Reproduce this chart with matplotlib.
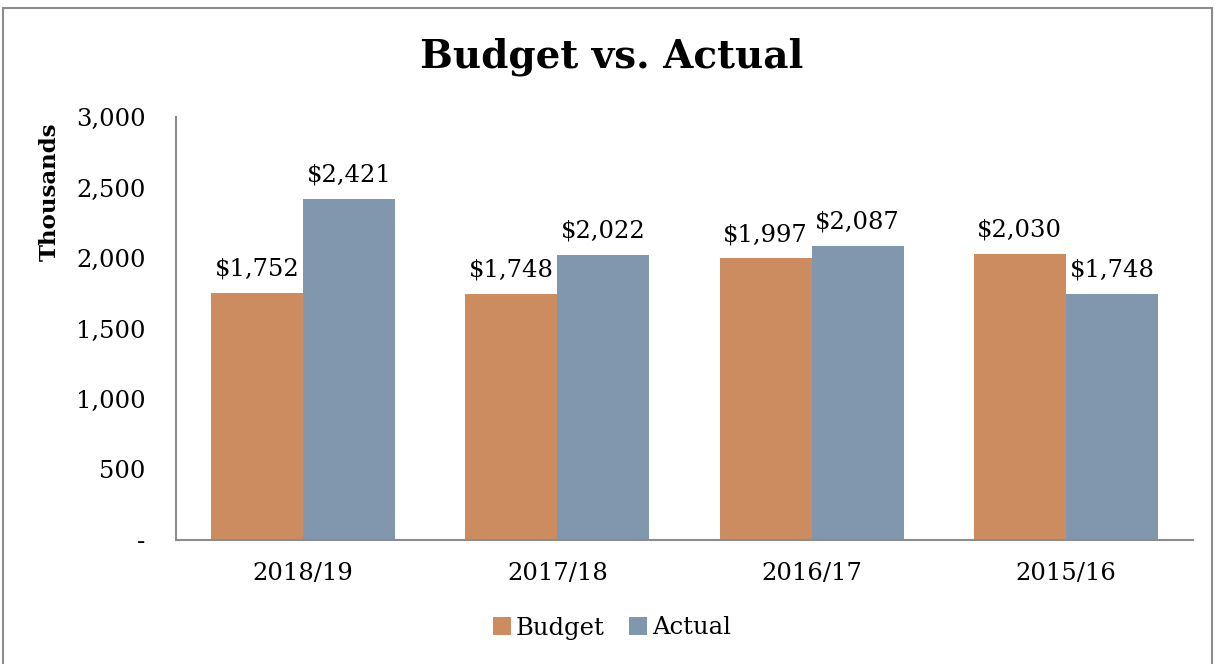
import numpy as np
import matplotlib.pyplot as plt
from matplotlib.patches import Rectangle
from matplotlib.ticker import FuncFormatter

years = ['2018/19', '2017/18', '2016/17', '2015/16']
budget = [1752, 1748, 1997, 2030]
actual = [2421, 2022, 2087, 1748]

plt.rcParams['font.family'] = ['DejaVu Serif']
fs = 17.5

fig = plt.figure(figsize=(12.15, 6.64), dpi=100)
# outer chart border (bottom edge falls outside the picture, as in the original)
fig.patches.append(Rectangle((3 / 1215, -0.05), 1209 / 1215, 1.05 - 8 / 664, transform=fig.transFigure,
                             fill=False, edgecolor='#8c8c8c', linewidth=1.5))

ax = fig.add_axes([176 / 1215, (664 - 540) / 664, 1017 / 1215, 423 / 664])
x = np.arange(len(years))
w = 0.362
b1 = ax.bar(x - w / 2, budget, w, color='#cc8c60', label='Budget')
b2 = ax.bar(x + w / 2, actual, w, color='#8097ae', label='Actual')

for bars in (b1, b2):
    for r in bars:
        ax.text(r.get_x() + r.get_width() / 2, r.get_height() + 85, f'${r.get_height():,.0f}',
                ha='center', va='bottom', fontsize=fs)

ax.set_xlim(-0.5, 3.5)
ax.set_ylim(0, 3000)
ax.set_yticks(range(0, 3001, 500))
ax.yaxis.set_major_formatter(FuncFormatter(lambda v, p: '-' if v == 0 else f'{v:,.0f}'))
ax.set_xticks(x)
ax.set_xticklabels(years)
ax.tick_params(length=0, labelsize=fs)
ax.tick_params(axis='y', pad=22)
ax.tick_params(axis='x', pad=16)
for s in ('top', 'right'):
    ax.spines[s].set_visible(False)
for s in ('left', 'bottom'):
    ax.spines[s].set_color('#8c8c8c')
    ax.spines[s].set_linewidth(1.5)

fig.text(50 / 1215, 1 - 192 / 664, 'Thousands', rotation=90, ha='center', va='center',
         fontsize=fs - 1, fontweight='bold')
fig.text(612 / 1215, 1 - 57 / 664, 'Budget vs. Actual', ha='center', va='center',
         fontsize=28, fontweight='bold')

fig.legend(loc='center', bbox_to_anchor=(612 / 1215, 1 - 628 / 664), ncol=2, frameon=False,
           fontsize=fs, handlelength=0.75, handleheight=0.75, handletextpad=0.2, columnspacing=1.0)

fig.savefig('out.png', dpi=100)
